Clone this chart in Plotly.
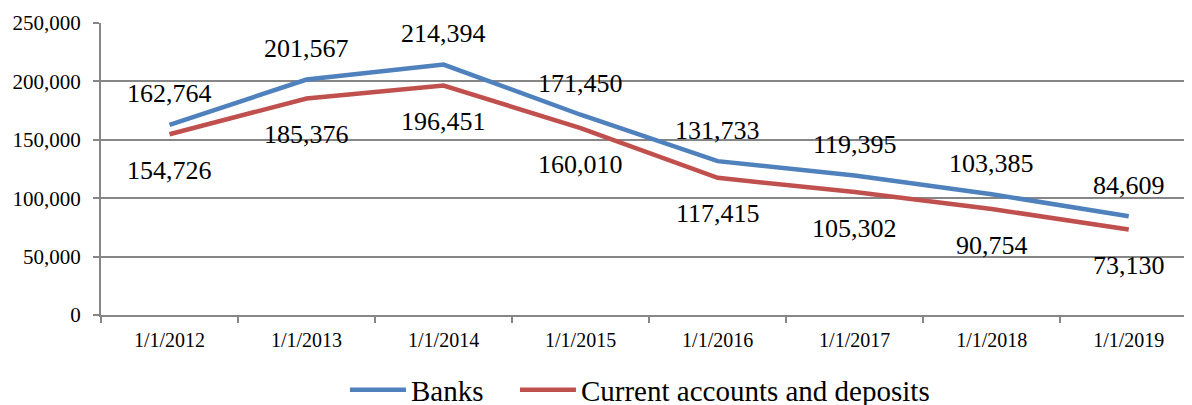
import plotly.graph_objects as go

categories = ["1/1/2012", "1/1/2013", "1/1/2014", "1/1/2015",
              "1/1/2016", "1/1/2017", "1/1/2018", "1/1/2019"]
banks = [162764, 201567, 214394, 171450, 131733, 119395, 103385, 84609]
deposits = [154726, 185376, 196451, 160010, 117415, 105302, 90754, 73130]
y_ticks = [0, 50000, 100000, 150000, 200000, 250000]

BLUE = "#4F81BD"
RED = "#C0504D"
GRID = "#868686"
FONT = "Liberation Serif"

fig = go.Figure()
fig.add_trace(go.Scatter(x=categories, y=banks, mode="lines", name="Banks",
                         line=dict(color=BLUE, width=4.5), legend="legend"))
fig.add_trace(go.Scatter(x=categories, y=deposits, mode="lines",
                         name="Current accounts and deposits",
                         line=dict(color=RED, width=4.5), legend="legend2"))

annotations = []
for c, v in zip(categories, banks):
    annotations.append(dict(x=c, y=v, text=f"{v:,}", showarrow=False,
                            yshift=31, xanchor="center", yanchor="middle",
                            font=dict(family=FONT, size=26, color="black")))
for c, v in zip(categories, deposits):
    annotations.append(dict(x=c, y=v, text=f"{v:,}", showarrow=False,
                            yshift=-36, xanchor="center", yanchor="middle",
                            font=dict(family=FONT, size=26, color="black")))

legend_common = dict(orientation="h", xref="container", yref="container",
                     xanchor="left", y=0.057, yanchor="middle",
                     font=dict(family=FONT, size=29, color="black"),
                     itemwidth=56, bgcolor="rgba(0,0,0,0)")

fig.update_layout(
    width=1192, height=405,
    margin=dict(l=93, r=0, t=15, b=97.5, autoexpand=False),
    paper_bgcolor="white", plot_bgcolor="white",
    font=dict(family=FONT, color="black"),
    annotations=annotations,
    showlegend=True,
    legend=dict(x=0.2827, **legend_common),
    legend2=dict(x=0.4253, **legend_common),
    xaxis=dict(type="category", range=[-0.5, 7.52], tickson="boundaries",
               ticks="outside", ticklen=6, tickcolor=GRID, tickwidth=1.5,
               showline=True, linecolor=GRID, linewidth=2, automargin=False,
               showgrid=False, tickfont=dict(family=FONT, size=20),
               ticklabelstandoff=6),
    yaxis=dict(range=[0, 250000], tickvals=y_ticks,
               ticktext=[f"{t:,}" for t in y_ticks], automargin=False,
               ticks="outside", ticklen=6, tickcolor=GRID, tickwidth=1.5,
               showline=True, linecolor=GRID, linewidth=2,
               showgrid=True, gridcolor=GRID, gridwidth=1.5,
               zeroline=False, tickfont=dict(family=FONT, size=21),
               ticklabelstandoff=8),
)

fig.write_html("out.html")
